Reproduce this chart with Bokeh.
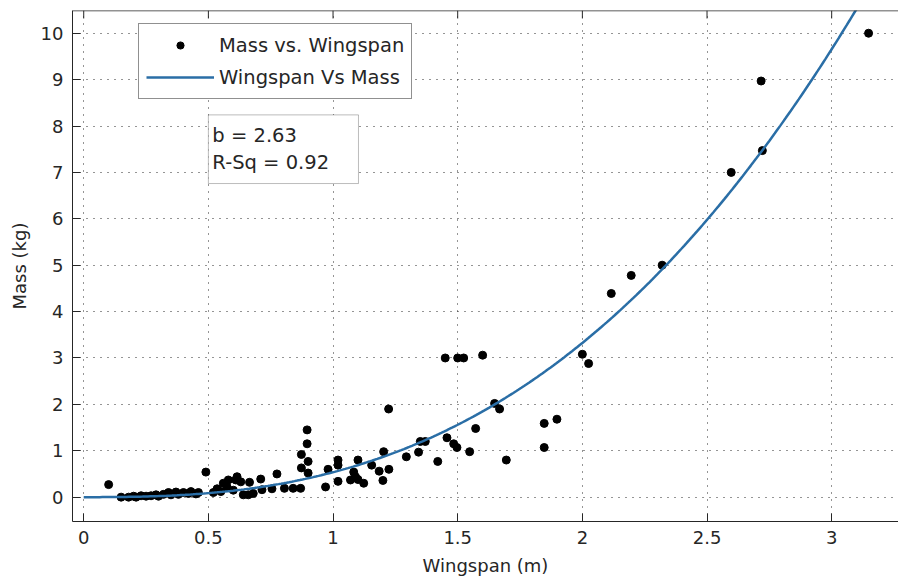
import numpy as np
from bokeh.plotting import figure
from bokeh.models import (Range1d, FixedTicker, Legend, LegendItem, Span,
                          BoxAnnotation, Label, ColumnDataSource)
from bokeh.embed import file_html
from bokeh.resources import INLINE

# ---- data ----
wingspan_m = [0.10, 0.15, 0.18, 0.20, 0.21, 0.23, 0.25, 0.27, 0.29, 0.30,
              0.32, 0.34, 0.35, 0.37, 0.38, 0.40, 0.42, 0.43, 0.45, 0.46,
              0.49, 0.52, 0.535, 0.55, 0.56, 0.575, 0.58, 0.60, 0.61, 0.615,
              0.63, 0.64, 0.66, 0.665, 0.68, 0.71, 0.715, 0.755, 0.775, 0.805,
              0.84, 0.87, 0.873, 0.873, 0.896, 0.896, 0.90, 0.90, 0.97, 0.98,
              1.02, 1.02, 1.02, 1.07, 1.083, 1.09, 1.10, 1.10, 1.123, 1.155,
              1.185, 1.20, 1.203, 1.223, 1.224, 1.294, 1.343, 1.35, 1.37, 1.42,
              1.45, 1.457, 1.484, 1.497, 1.50, 1.524, 1.548, 1.572, 1.60, 1.648,
              1.668, 1.695, 1.847, 1.847, 1.898, 2.00, 2.025, 2.116, 2.196, 2.32,
              2.597, 2.717, 2.722, 3.148]
mass_kg = [0.27, 0.00, 0.00, 0.02, 0.00, 0.03, 0.02, 0.03, 0.05, 0.02,
           0.06, 0.10, 0.05, 0.11, 0.06, 0.10, 0.08, 0.12, 0.07, 0.10,
           0.54, 0.10, 0.18, 0.12, 0.30, 0.22, 0.37, 0.15, 0.37, 0.44,
           0.33, 0.05, 0.05, 0.32, 0.08, 0.39, 0.16, 0.18, 0.50, 0.19,
           0.19, 0.19, 0.63, 0.92, 1.45, 1.15, 0.77, 0.52, 0.22, 0.60,
           0.80, 0.69, 0.34, 0.37, 0.54, 0.44, 0.80, 0.38, 0.30, 0.69,
           0.56, 0.36, 0.98, 1.90, 0.60, 0.87, 0.97, 1.20, 1.20, 0.77,
           3.00, 1.28, 1.15, 1.07, 3.00, 3.00, 0.98, 1.48, 3.06, 2.02,
           1.90, 0.80, 1.07, 1.59, 1.68, 3.08, 2.88, 4.39, 4.78, 5.00,
           7.00, 8.97, 7.47, 10.00]

# power-law fit  mass = FIT_A * wingspan ** FIT_B  (b shown on chart)
FIT_A = 0.537
FIT_B = 2.63
fit_stats = ["b = 2.63", "R-Sq = 0.92"]

x_ticks = [0, 0.5, 1, 1.5, 2, 2.5, 3]
x_tick_labels = ["0", "0.5", "1", "1.5", "2", "2.5", "3"]
y_ticks = [0, 1, 2, 3, 4, 5, 6, 7, 8, 9, 10]
y_tick_labels = ["0", "1", "2", "3", "4", "5", "6", "7", "8", "9", "10"]

FONT = "DejaVu Sans"
FS = "18px"
FS_BOX = "19.5px"
TXT = "#262626"
FIT_COLOR = "#2a6ea6"

X0, X1 = -0.045, 3.268
Y0, Y1 = -0.525, 10.49

p = figure(width=898, height=578, output_backend="svg", toolbar_location=None,
           x_range=Range1d(X0, X1), y_range=Range1d(Y0, Y1),
           min_border_left=72, min_border_right=0, min_border_top=10,
           min_border_bottom=56, background_fill_color="white",
           border_fill_color="white", outline_line_color=None)

# axes
for ax, ticks, labels in [(p.xaxis[0], x_ticks, x_tick_labels),
                          (p.yaxis[0], y_ticks, y_tick_labels)]:
    ax.ticker = FixedTicker(ticks=ticks)
    ax.major_label_overrides = {t: l for t, l in zip(ticks, labels)}
    ax.major_tick_in = 8
    ax.major_tick_out = 0
    ax.minor_tick_in = 0
    ax.minor_tick_out = 0
    ax.axis_line_color = TXT
    ax.major_tick_line_color = TXT
    ax.major_label_text_font = FONT
    ax.major_label_text_font_size = FS
    ax.major_label_text_color = TXT
    ax.axis_label_text_font = FONT
    ax.axis_label_text_font_size = FS
    ax.axis_label_text_font_style = "normal"
    ax.axis_label_text_color = TXT
    ax.major_label_standoff = 9

p.xaxis[0].axis_label = "Wingspan (m)"
p.yaxis[0].axis_label = "Mass (kg)"
p.xaxis[0].axis_label_standoff = 8
p.yaxis[0].axis_label_standoff = 8

# grid
p.xgrid.ticker = FixedTicker(ticks=x_ticks)
p.ygrid.ticker = FixedTicker(ticks=y_ticks)
for g in (p.xgrid[0], p.ygrid[0]):
    g.grid_line_color = "#2a2a2a"
    g.grid_line_dash = "1 6"
    g.grid_line_width = 1

# top frame line with inward ticks (box on)
p.add_layout(Span(location=Y1, dimension="width", line_color=TXT, line_width=1.5))
tick_len = 8 * (Y1 - Y0) / 512.0
p.segment(x0=x_ticks, y0=[Y1] * len(x_ticks), x1=x_ticks,
          y1=[Y1 - tick_len] * len(x_ticks), line_color=TXT, line_width=1)

# data
src = ColumnDataSource(dict(x=wingspan_m, y=mass_kg))
r_pts = p.scatter("x", "y", source=src, size=8, color="black")

xs = np.linspace(0, 3.2, 300)
ys = FIT_A * xs ** FIT_B
r_fit = p.line(xs, ys, line_color=FIT_COLOR, line_width=2.5)

legend = Legend(items=[LegendItem(label="Mass vs. Wingspan", renderers=[r_pts]),
                       LegendItem(label="Wingspan Vs Mass", renderers=[r_fit])],
                location=(66, 422), orientation="vertical",
                border_line_color="#222222", border_line_width=1,
                background_fill_color="white", background_fill_alpha=1,
                padding=7, spacing=4, glyph_width=68, glyph_height=18,
                label_height=28, label_standoff=5, margin=0,
                label_text_font=FONT, label_text_font_size=FS_BOX,
                label_text_color=TXT)
p.add_layout(legend)

box = BoxAnnotation(left=0.5, right=1.102, bottom=6.76, top=8.24,
                    fill_color="white", fill_alpha=1,
                    line_color="#222222", line_width=1)
p.add_layout(box)
for txt, yy in zip(fit_stats, [7.79, 7.21]):
    p.add_layout(Label(x=0.516, y=yy, text=txt, text_baseline="middle",
                       text_font=FONT, text_font_size=FS_BOX, text_color=TXT))

open("out.html", "w").write(file_html(p, INLINE))
